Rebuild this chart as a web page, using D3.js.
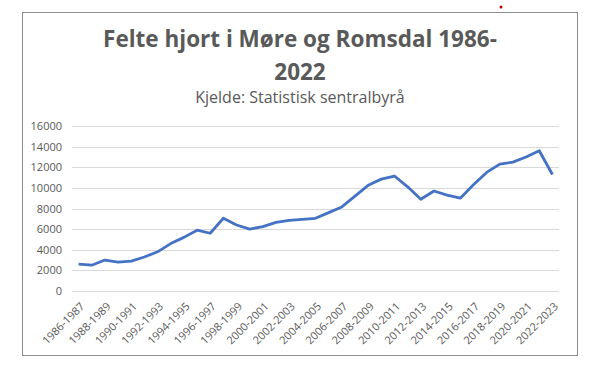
<!DOCTYPE html>
<html>
<head>
<meta charset="utf-8">
<script src="https://cdn.jsdelivr.net/npm/d3@7"></script>
<style>
  body { margin: 0; background: #fff; }
  #chart { width: 597px; height: 371px; }
</style>
</head>
<body>
<div id="chart"></div>
<script>
const seasons = [
    "1986-1987", "1987-1988", "1988-1989", "1989-1990", "1990-1991", "1991-1992",
    "1992-1993", "1993-1994", "1994-1995", "1995-1996", "1996-1997", "1997-1998",
    "1998-1999", "1999-2000", "2000-2001", "2001-2002", "2002-2003", "2003-2004",
    "2004-2005", "2005-2006", "2006-2007", "2007-2008", "2008-2009", "2009-2010",
    "2010-2011", "2011-2012", "2012-2013", "2013-2014", "2014-2015", "2015-2016",
    "2016-2017", "2017-2018", "2018-2019", "2019-2020", "2020-2021", "2021-2022",
    "2022-2023"
];
const felte = [
    2600, 2500, 3000, 2800, 2900, 3300, 3800, 4600, 5200, 5900, 5600, 7050,
    6400, 6000, 6250, 6650, 6850, 6950, 7050, 7600, 8150, 9200, 10250, 10850,
    11150, 10100, 8900, 9700, 9300, 9000, 10300, 11500, 12300, 12500, 13000, 13600,
    11300
];
const yTicks = [0, 2000, 4000, 6000, 8000, 10000, 12000, 14000, 16000];
const titleLines = ["Felte hjort i Møre og Romsdal 1986-", "2022"];
const subtitle = "Kjelde: Statistisk sentralbyrå";

function createChart(containerId) {
    const width = 597, height = 371;
    const margin = { top: 126, right: 38, bottom: 80, left: 72 };
    const innerWidth = width - margin.left - margin.right;
    const innerHeight = height - margin.top - margin.bottom;

    const svg = d3.select(`#${containerId}`).append("svg")
        .attr("width", width)
        .attr("height", height)
        .style("font-family", "'Open Sans', sans-serif");

    // Chart frame
    svg.append("rect")
        .attr("x", 22.5).attr("y", 12.5)
        .attr("width", 555).attr("height", 343)
        .attr("fill", "#fff")
        .attr("stroke", "#8c8c8c");

    // little red dot above the frame
    svg.append("circle")
        .attr("cx", 501).attr("cy", 7).attr("r", 1.5)
        .attr("fill", "#c00000");

    // Title
    svg.selectAll("text.title")
        .data(titleLines)
        .enter().append("text")
        .attr("class", "title")
        .attr("x", 300)
        .attr("y", (d, i) => 47 + i * 33)
        .attr("text-anchor", "middle")
        .attr("fill", "#595959")
        .style("font-size", "22.5px")
        .style("font-weight", "bold")
        .text(d => d);

    svg.append("text")
        .attr("x", 300)
        .attr("y", 103)
        .attr("text-anchor", "middle")
        .attr("fill", "#595959")
        .style("font-size", "16px")
        .text(subtitle);

    const g = svg.append("g")
        .attr("transform", `translate(${margin.left}, ${margin.top})`);

    const x = d3.scalePoint()
        .domain(seasons)
        .range([0, innerWidth])
        .padding(0.5);

    const y = d3.scaleLinear()
        .domain([0, 16000])
        .range([innerHeight, 0]);

    // Gridlines
    g.selectAll("line.grid")
        .data(yTicks)
        .enter().append("line")
        .attr("class", "grid")
        .attr("x1", 0).attr("x2", innerWidth)
        .attr("y1", d => Math.round(y(d)) + 0.5)
        .attr("y2", d => Math.round(y(d)) + 0.5)
        .attr("stroke", "#d9d9d9");

    // Y-axis labels
    const yAxis = g.append("g")
        .call(d3.axisLeft(y).tickValues(yTicks).tickFormat(d3.format("d"))
            .tickSize(0).tickPadding(10));
    yAxis.select(".domain").remove();
    yAxis.selectAll("text")
        .attr("fill", "#595959")
        .style("font-size", "11px")
        .style("font-family", "'Open Sans', sans-serif");

    // X-axis labels, every other season
    const xAxis = g.append("g")
        .attr("transform", `translate(0,${innerHeight})`)
        .call(d3.axisBottom(x)
            .tickValues(seasons.filter((d, i) => i % 2 === 0))
            .tickSize(0));
    xAxis.select(".domain").remove();
    xAxis.selectAll("text")
        .attr("fill", "#595959")
        .style("font-size", "11px")
        .style("font-family", "'Open Sans', sans-serif")
        .attr("text-anchor", "end")
        .attr("dy", null)
        .attr("y", 0)
        .attr("transform", "translate(6,16) rotate(-45)");

    // Line
    g.append("path")
        .datum(felte)
        .attr("fill", "none")
        .attr("stroke", "#4472c4")
        .attr("stroke-width", 2.8)
        .attr("stroke-linejoin", "round")
        .attr("d", d3.line()
            .x((d, i) => x(seasons[i]))
            .y(d => y(d))
        );
}

createChart("chart");
</script>
</body>
</html>
